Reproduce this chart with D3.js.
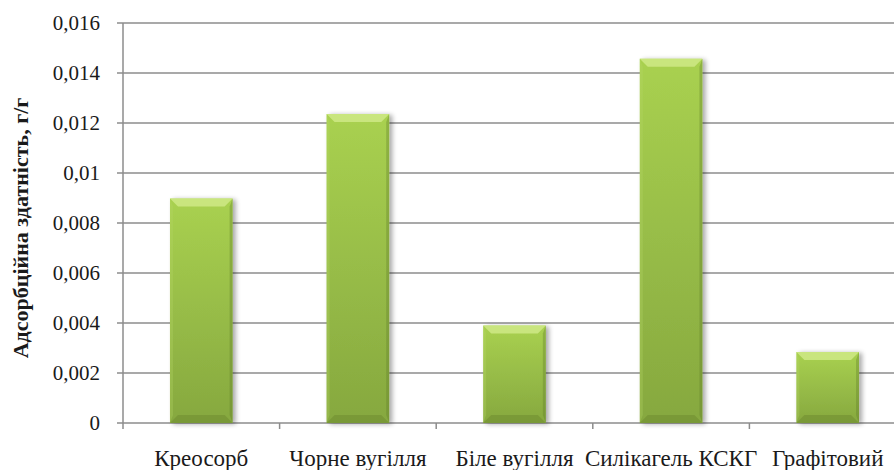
<!DOCTYPE html>
<html>
<head>
<meta charset="utf-8">
<script src="https://cdn.jsdelivr.net/npm/d3@7"></script>
<style>
  body { margin: 0; background: #fff; }
</style>
</head>
<body>
<svg id="chart"></svg>
<script>
var categories = ["Креосорб", "Чорне вугілля", "Біле вугілля", "Силікагель КСКГ", "Графітовий"];
var values = [0.00898, 0.01236, 0.00390, 0.01457, 0.00284];
var yTicks = [0, 0.002, 0.004, 0.006, 0.008, 0.01, 0.012, 0.014, 0.016];
var yTitle = "Адсорбційна здатність, г/г";

var width = 894, height = 470;
var margin = { top: 23, left: 123, bottom: 47 };
var plotRight = 906; // chart is cut off at the right edge
var serif = "'Liberation Serif', 'Times New Roman', 'DejaVu Serif', serif";

var svg = d3.select("#chart").attr("width", width).attr("height", height)
  .attr("font-family", serif);

var x = d3.scaleBand().domain(categories).range([margin.left, plotRight]).paddingInner(0.6).paddingOuter(0.3);
var y = d3.scaleLinear().domain([0, 0.016]).range([height - margin.bottom, margin.top]);

var fmt = function(d) { return String(d).replace(".", ","); };

// gradients
var defs = svg.append("defs");
var g1 = defs.append("linearGradient").attr("id", "barGrad").attr("x1", 0).attr("y1", 0).attr("x2", 0).attr("y2", 1);
g1.append("stop").attr("offset", "0%").attr("stop-color", "#a9d150");
g1.append("stop").attr("offset", "100%").attr("stop-color", "#86a83f");
var f = defs.append("filter").attr("id", "shadow").attr("x", "-20%").attr("y", "-10%").attr("width", "150%").attr("height", "120%");
f.append("feGaussianBlur").attr("in", "SourceAlpha").attr("stdDeviation", 2.5);
f.append("feOffset").attr("dx", 3).attr("dy", 1).attr("result", "b");
f.append("feComponentTransfer").append("feFuncA").attr("type", "linear").attr("slope", 0.35);
var m = f.append("feMerge");
m.append("feMergeNode");
m.append("feMergeNode").attr("in", "SourceGraphic");

// gridlines
svg.append("g").selectAll("line").data(yTicks).enter().append("line")
  .attr("x1", margin.left - 6).attr("x2", width)
  .attr("y1", function(d) { return y(d); }).attr("y2", function(d) { return y(d); })
  .attr("stroke", "#8c8c8c").attr("stroke-width", 1.5);

// y axis line
svg.append("line").attr("x1", margin.left).attr("x2", margin.left)
  .attr("y1", y(0.016)).attr("y2", y(0))
  .attr("stroke", "#8c8c8c").attr("stroke-width", 1.5);

// y tick labels
svg.append("g").selectAll("text").data(yTicks).enter().append("text")
  .attr("x", margin.left - 23).attr("y", function(d) { return y(d) + 7; })
  .attr("text-anchor", "end").attr("font-size", 21).attr("fill", "#1a1a1a")
  .text(fmt);

// x tick marks
var bounds = d3.range(categories.length + 1).map(function(i) { return margin.left + i * (plotRight - margin.left) / categories.length; });
svg.append("g").selectAll("line").data(bounds).enter().append("line")
  .attr("x1", function(d) { return d; }).attr("x2", function(d) { return d; })
  .attr("y1", y(0)).attr("y2", y(0) + 6)
  .attr("stroke", "#8c8c8c").attr("stroke-width", 1.5);

// bars
var bars = svg.append("g").selectAll("g").data(categories).enter().append("g");
bars.append("rect")
  .attr("x", function(d) { return x(d); })
  .attr("y", function(d, i) { return y(values[i]); })
  .attr("width", x.bandwidth())
  .attr("height", function(d, i) { return y(0) - y(values[i]); })
  .attr("fill", "url(#barGrad)")
  .attr("filter", "url(#shadow)");
// top bevel
var bv = 8;
bars.append("path")
  .attr("d", function(d, i) {
    var x0 = x(d), x1 = x0 + x.bandwidth(), t = y(values[i]);
    return "M" + x0 + "," + t + "L" + x1 + "," + t + "L" + (x1 - bv) + "," + (t + bv) + "L" + (x0 + bv) + "," + (t + bv) + "Z";
  })
  .attr("fill", "#d4ec8e").attr("opacity", 0.75);
// bottom bevel
bars.append("path")
  .attr("d", function(d, i) {
    var x0 = x(d), x1 = x0 + x.bandwidth(), b = y(0);
    return "M" + x0 + "," + b + "L" + x1 + "," + b + "L" + (x1 - bv) + "," + (b - bv) + "L" + (x0 + bv) + "," + (b - bv) + "Z";
  })
  .attr("fill", "#6f8c30").attr("opacity", 0.55);
// side bevels
bars.append("path")
  .attr("d", function(d, i) {
    var x0 = x(d), t = y(values[i]), b = y(0);
    return "M" + x0 + "," + t + "L" + (x0 + 3) + "," + (t + bv) + "L" + (x0 + 3) + "," + (b - bv) + "L" + x0 + "," + b + "Z";
  })
  .attr("fill", "#b5d866").attr("opacity", 0.3);
bars.append("path")
  .attr("d", function(d, i) {
    var x1 = x(d) + x.bandwidth(), t = y(values[i]), b = y(0);
    return "M" + x1 + "," + t + "L" + (x1 - 3) + "," + (t + bv) + "L" + (x1 - 3) + "," + (b - bv) + "L" + x1 + "," + b + "Z";
  })
  .attr("fill", "#5f7a28").attr("opacity", 0.35);

// x labels
svg.append("g").selectAll("text").data(categories).enter().append("text")
  .attr("x", function(d) { return x(d) + x.bandwidth() / 2; })
  .attr("y", 466)
  .attr("text-anchor", "middle").attr("font-size", 23).attr("fill", "#1a1a1a")
  .text(function(d) { return d; });

// y title
svg.append("text")
  .attr("transform", "translate(28,228) rotate(-90)")
  .attr("text-anchor", "middle").attr("font-size", 22).attr("font-weight", "bold").attr("fill", "#1a1a1a")
  .text(yTitle);
</script>
</body>
</html>
